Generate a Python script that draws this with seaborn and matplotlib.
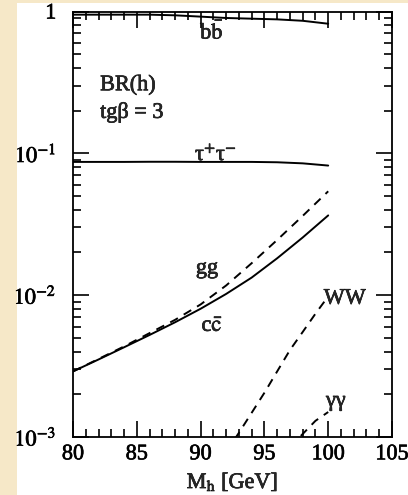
import numpy as np
import pandas as pd
import matplotlib
matplotlib.use("Agg")
import matplotlib.pyplot as plt
import matplotlib.ticker as mticker
import matplotlib.patheffects as pe
from matplotlib.patches import Rectangle
import seaborn as sns

# ---- data ----
mass = [80, 82, 84, 86, 88, 90, 92, 94, 96, 98, 100]
br_bb = [0.95, 0.95, 0.95, 0.95, 0.94, 0.92, 0.90, 0.89, 0.88, 0.86, 0.82]
br_tau = [0.087, 0.087, 0.087, 0.0872, 0.0872, 0.087, 0.087, 0.087, 0.0865, 0.085, 0.082]
br_cc = [0.0029, 0.00352, 0.00429, 0.00524, 0.00644, 0.00802, 0.0102, 0.0133, 0.0182, 0.0255, 0.0365]
br_gg = [0.0029, 0.00355, 0.00435, 0.0054, 0.0067, 0.0086, 0.0117, 0.0168, 0.0245, 0.0362, 0.054]
mass_ww = [92, 93, 94, 95, 96, 97, 98, 99, 100]
br_ww = [0.00078, 0.00107, 0.00148, 0.00205, 0.0029, 0.0041, 0.0055, 0.0074, 0.0098]
mass_aa = [97, 98, 99, 100]
br_aa = [0.00085, 0.00105, 0.0013, 0.0015]

ytick_vals = [1e-3, 1e-2, 1e-1, 1]
ytick_labels = [r"$10^{-3}$", r"$10^{-2}$", r"$10^{-1}$", "1"]
xtick_vals = [80, 85, 90, 95, 100, 105]

sns.set_style("ticks")
plt.rcParams["font.family"] = ["Liberation Serif", "DejaVu Serif"]
plt.rcParams["mathtext.fontset"] = "stix"

W, H = 408, 495
fig = plt.figure(figsize=(W / 100, H / 100), dpi=100)
fig.patch.set_facecolor("#F6E8C8")
bg = Rectangle((17 / W, 0), 1 - 17 / W, 1 - 3 / H, transform=fig.transFigure,
               facecolor="white", edgecolor="none", zorder=-10)
fig.add_artist(bg)
ax = fig.add_axes([73 / W, 1 - 437 / H, (392 - 73) / W, (437 - 11.5) / H])
ax.set_zorder(1)
ax.set_facecolor("white")

dash = (0, (4.5, 3.5))
series = [
    (mass, br_bb, "-"),
    (mass, br_tau, "-"),
    (mass, br_cc, "-"),
    (mass, br_gg, dash),
    (mass_ww, br_ww, dash),
    (mass_aa, br_aa, dash),
]
for xs, ys, ls in series:
    df = pd.DataFrame({"M": xs, "BR": ys})
    sns.lineplot(data=df, x="M", y="BR", ax=ax, color="black", lw=1.4,
                 linestyle=ls, estimator=None, sort=True)

ax.set_yscale("log")
ax.set_xlim(80, 105)
ax.set_ylim(1e-3, 1)
ax.set_xticks(xtick_vals)
ax.set_xticklabels([str(v) for v in xtick_vals])
ax.xaxis.set_minor_locator(mticker.MultipleLocator(1))
ax.set_yticks(ytick_vals)
ax.set_yticklabels(ytick_labels)
ax.yaxis.set_minor_locator(mticker.LogLocator(base=10, subs=np.arange(2, 10)))
ax.yaxis.set_minor_formatter(mticker.NullFormatter())

fs = 16
ax.tick_params(which="both", direction="in", top=True, right=True, width=1.2, colors="black")
ax.tick_params(which="major", length=11.5, labelsize=fs)
ax.tick_params(axis="x", which="major", pad=6)
ax.tick_params(axis="y", which="major", pad=12)
ax.tick_params(which="minor", length=5.5)
for sp in ax.spines.values():
    sp.set_linewidth(1.3)
    sp.set_color("black")

ax.set_xlabel(r"M$_\mathrm{h}$ [GeV]", fontsize=fs, labelpad=6)
ax.set_ylabel("")

texts = [
    ax.text(90.9, 0.72, r"b$\mathrm{\bar{b}}$", fontsize=fs, ha="center", va="center"),
    ax.text(91.2, 0.0895, r"τ$^{+}$τ$^{-}$", fontsize=fs, ha="center", va="baseline"),
    ax.text(90.5, 0.0142, "gg", fontsize=fs, ha="center", va="baseline"),
    ax.text(90.9, 0.0056, r"c$\mathrm{\bar{c}}$", fontsize=fs, ha="center", va="baseline"),
    ax.text(101.3, 0.0087, "WW", fontsize=fs, ha="center", va="baseline"),
    ax.text(100.6, 0.00165, "γγ", fontsize=fs, ha="center", va="baseline"),
    ax.text(0.085, 0.815, "BR(h)", transform=ax.transAxes, fontsize=fs, ha="left", va="baseline"),
    ax.text(0.085, 0.75, "tgβ = 3", transform=ax.transAxes, fontsize=fs, ha="left", va="baseline"),
]
heavy = [pe.withStroke(linewidth=0.45, foreground="black")]
for t in texts + ax.get_xticklabels() + ax.get_yticklabels() + [ax.xaxis.label]:
    t.set_path_effects(heavy)

fig.savefig("out.png", dpi=100, facecolor=fig.get_facecolor())
